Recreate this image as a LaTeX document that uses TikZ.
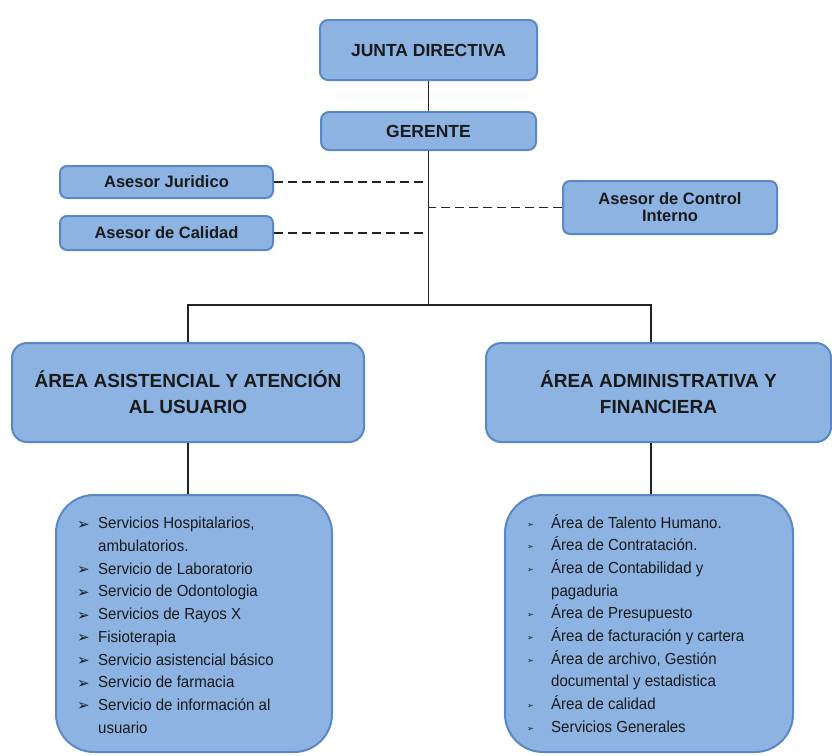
\documentclass[tikz,border=0pt]{standalone}
\usepackage{fontspec}
\setmainfont{Liberation Sans}
\newfontfamily\dejavu{DejaVu Sans}
\newfontfamily\listfont[FakeStretch=0.94]{Liberation Sans}
\usetikzlibrary{calc}
\definecolor{boxfill}{HTML}{8DB3E2}
\definecolor{boxline}{HTML}{5A87C5}
\definecolor{txt}{HTML}{1A1A1A}
\definecolor{conncol}{HTML}{222222}
\newcommand\bulL{\makebox[20pt][l]{\hspace*{-1pt}\raisebox{-0.5pt}{\fontsize{15}{15}\dejavu ➢}}}
\newcommand\bulR{\makebox[24pt][l]{\raisebox{1pt}{\fontsize{8}{8}\dejavu ➢}}}
\newcommand\indL{\hspace*{20pt}}
\newcommand\indR{\hspace*{24pt}}
\tikzset{
  box/.style={draw=boxline, line width=2pt, fill=boxfill, text=txt, align=center, inner sep=0pt},
  topbox/.style={box, rounded corners=8pt, font=\fontsize{17.5}{20}\selectfont\bfseries},
  smallbox/.style={box, rounded corners=7pt, font=\fontsize{16.5}{18}\selectfont\bfseries},
  areabox/.style={box, rounded corners=15pt, font=\fontsize{19}{26}\selectfont\bfseries},
  listbox/.style={box, rounded corners=38pt},
  listtext/.style={inner sep=0pt, align=left, text=txt, anchor=north west, font=\listfont\fontsize{16}{22.7}\selectfont},
  conn/.style={draw=conncol, line width=1.4pt},
  dconn/.style={conn, dash pattern=on 9pt off 5pt}
}
\begin{document}
\begin{tikzpicture}[x=1pt,y=-1pt]
\useasboundingbox (0,0) rectangle (832,755);
\node[topbox, minimum width=217pt, minimum height=60pt] (junta) at (428.5,50) {JUNTA DIRECTIVA};
\node[topbox, minimum width=215pt, minimum height=38pt] (ger) at (428.5,131) {GERENTE};
\node[smallbox, minimum width=213pt, minimum height=32pt] (jur) at (166.5,182) {Asesor Juridico};
\node[smallbox, minimum width=213pt, minimum height=34pt] (cal) at (166.5,233) {Asesor de Calidad};
\node[smallbox, minimum width=214pt, minimum height=53pt] (ctrl) at (670,207.5) {Asesor de Control\\[-1pt]Interno};
\node[areabox, minimum width=352pt, minimum height=99pt] (asis) at (188,392.5) {ÁREA ASISTENCIAL Y ATENCIÓN\\AL USUARIO};
\node[areabox, minimum width=345pt, minimum height=99pt] (adm) at (658.5,392.5) {ÁREA ADMINISTRATIVA Y\\FINANCIERA};
\node[listbox, minimum width=276pt, minimum height=257pt] (l1) at (194,623.5) {};
\node[listbox, minimum width=288pt, minimum height=257pt] (l2) at (649,623.5) {};
\node[listtext] (l1t) at (78,517) {%
\bulL Servicios Hospitalarios,\\
\indL ambulatorios.\\
\bulL Servicio de Laboratorio\\
\bulL Servicio de Odontologia\\
\bulL Servicios de Rayos X\\
\bulL Fisioterapia\\
\bulL Servicio asistencial básico\\
\bulL Servicio de farmacia\\
\bulL Servicio de información al\\
\indL usuario};
\node[listtext] (l2t) at (527,514) {%
\bulR Área de Talento Humano.\\
\bulR Área de Contratación.\\
\bulR Área de Contabilidad y\\
\indR pagaduria\\
\bulR Área de Presupuesto\\
\bulR Área de facturación y cartera\\
\bulR Área de archivo, Gestión\\
\indR documental y estadistica\\
\bulR Área de calidad\\
\bulR Servicios Generales};
\coordinate (busL) at (188,305);
\coordinate (busR) at (651,305);
\coordinate (busM) at (ger.south |- busL);
\draw[conn] (junta.south) -- (ger.north);
\draw[conn] (ger.south) -- (busM);
\draw[conn] (busL |- asis.north) -- (busL) -- (busR) -- (busR |- adm.north);
\draw[conn] (asis.south) -- (asis.south |- l1.north);
\draw[conn] (busR |- adm.south) -- (busR |- l2.north);
\draw[dconn] (jur.east) -- (jur.east -| ger.south);
\draw[dconn] (cal.east) -- (cal.east -| ger.south);
\draw[dconn] (ctrl.west) -- (ctrl.west -| ger.south);
\end{tikzpicture}
\end{document}
